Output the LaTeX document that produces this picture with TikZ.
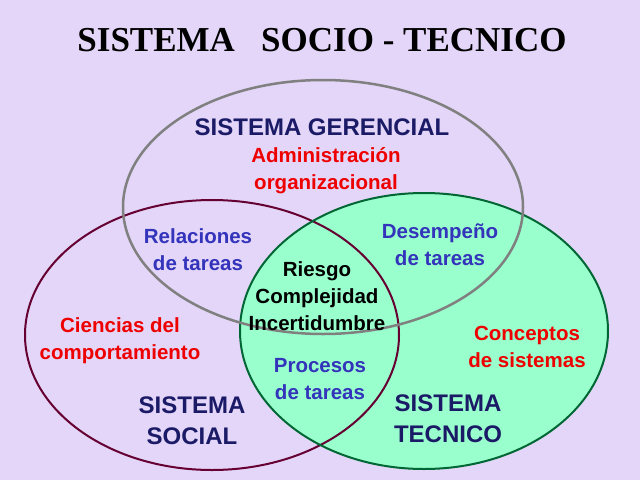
\documentclass[tikz,border=0pt]{standalone}
\usepackage{fontspec}
\setmainfont{Liberation Sans}
\newfontfamily\titlefont{Liberation Serif}
\begin{document}
\begin{tikzpicture}[x=1pt,y=-1pt,
  lbl/.style={font=\bfseries\fontsize{20.5}{27}\selectfont,align=center},
  big/.style={font=\bfseries\fontsize{24}{31}\selectfont,align=center}]
\definecolor{bg}{HTML}{E3D6F8}
\definecolor{grn}{HTML}{99FFCC}
\definecolor{maroon}{HTML}{660033}
\definecolor{dkgreen}{HTML}{006633}
\definecolor{blu}{HTML}{3333BB}
\definecolor{rd}{HTML}{EE0000}
\definecolor{navy}{HTML}{1A1A66}
\fill[bg] (0,0) rectangle (640,480);
\useasboundingbox (0,0) rectangle (640,480);
\fill[grn] (424,331) ellipse[x radius=184,y radius=138];
\draw[maroon,line width=2pt] (212,335) ellipse[x radius=187,y radius=135];
\draw[dkgreen,line width=2pt] (424,331) ellipse[x radius=184,y radius=138];
\draw[gray,line width=2.5pt] (323,207) ellipse[x radius=200,y radius=127];
\node[font=\titlefont\bfseries\fontsize{35}{40}\selectfont] (t) at (322,40) {SISTEMA\ \ \ SOCIO - TECNICO};
\node[big,navy] (g) at (322,127) {SISTEMA GERENCIAL};
\node[lbl,rd] (a) at (326,171) {Administración\\organizacional};
\node[lbl,blu] (r) at (198,250) {Relaciones\\de tareas};
\node[lbl,blu] (d) at (440,245) {Desempeño\\de tareas};
\node[lbl,black] (c) at (317,296) {Riesgo\\Complejidad\\Incertidumbre};
\node[lbl,rd] (cc) at (120,341) {Ciencias del\\comportamiento};
\node[lbl,blu] (p) at (320,379) {Procesos\\de tareas};
\node[lbl,rd] (cs) at (527,347) {Conceptos\\de sistemas};
\node[big,navy] (ss) at (192,421) {SISTEMA\\SOCIAL};
\node[big,navy] (st) at (448,419) {SISTEMA\\TECNICO};
\end{tikzpicture}
\end{document}
